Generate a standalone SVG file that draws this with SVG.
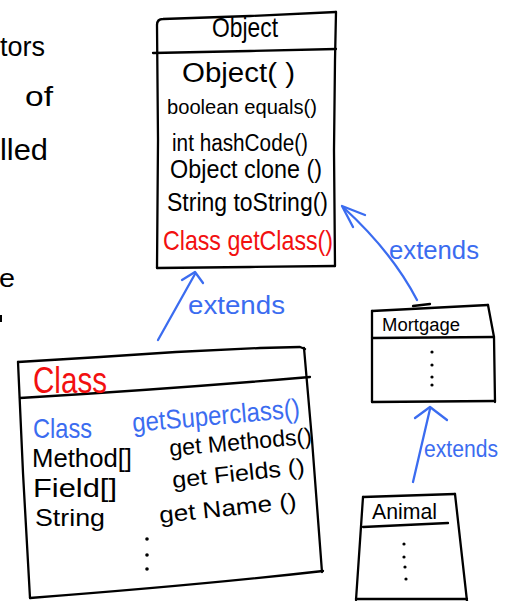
<svg xmlns="http://www.w3.org/2000/svg" width="506" height="601" viewBox="0 0 506 601">
  <style>
    .box { fill: none; stroke: #000; stroke-width: 2.3; stroke-linecap: round; stroke-linejoin: round; }
    .link { fill: none; stroke: #3b6cf0; stroke-width: 2.3; stroke-linecap: round; stroke-linejoin: round; }
    text { font-family: "Liberation Sans", Arial, sans-serif; }
    .ink { fill: #000; }
    .red { fill: #f21010; }
    .blue { fill: #3b6cf0; }
    .dot { fill: #000; }
  </style>
  <rect width="506" height="601" fill="#fff"/>

  <!-- fragments of handwritten notes cut off at the left margin -->
  <g id="margin-notes" class="ink">
    <text x="0" y="56" font-size="27" textLength="45" lengthAdjust="spacingAndGlyphs">tors</text>
    <text x="25" y="106" font-size="28" textLength="28" lengthAdjust="spacingAndGlyphs">of</text>
    <text x="0" y="160" font-size="30" textLength="48" lengthAdjust="spacingAndGlyphs">lled</text>
    <text x="-1" y="287" font-size="25" textLength="16" lengthAdjust="spacingAndGlyphs">e</text>
    <path d="M1,315 L1,322" stroke="#000" stroke-width="2" fill="none"/>
  </g>

  <!-- java.lang.Object -->
  <g id="node-object">
    <path class="box" d="M157,25 C157,21 159,19 163,19 L250,16 L336,12"/>
    <path class="box" d="M157,25 L158,140 L157,268"/>
    <path class="box" d="M336,12 L335,60 L334,150 L335,266"/>
    <path class="box" d="M153,53 L250,51 L336,49"/>
    <path class="box" d="M157,268 L250,267 L335,266"/>
    <text class="ink" x="212" y="37" font-size="28" textLength="66" lengthAdjust="spacingAndGlyphs">Object</text>
    <text class="ink" x="182" y="82" font-size="27" textLength="113" lengthAdjust="spacingAndGlyphs">Object( )</text>
    <text class="ink" x="167" y="114" font-size="21" textLength="150" lengthAdjust="spacingAndGlyphs">boolean equals()</text>
    <text class="ink" x="172" y="151" font-size="23" textLength="136" lengthAdjust="spacingAndGlyphs">int hashCode()</text>
    <text class="ink" x="170" y="178" font-size="25" textLength="152" lengthAdjust="spacingAndGlyphs">Object clone ()</text>
    <text class="ink" x="167" y="211" font-size="25" textLength="161" lengthAdjust="spacingAndGlyphs">String toString()</text>
    <text class="red" x="163" y="250" font-size="28" textLength="170" lengthAdjust="spacingAndGlyphs">Class getClass()</text>
  </g>

  <!-- java.lang.Class -->
  <g id="node-class">
    <path class="box" d="M18,362 L100,357 L176,352 L260,348 L300,347 L305,349"/>
    <path class="box" d="M18,362 L23,473 L30,598"/>
    <path class="box" d="M304,348 L312,440 L322,572"/>
    <path class="box" d="M20,398 Q170,389 310,377"/>
    <path class="box" d="M30,598 Q200,585 323,571"/>
    <text class="red" x="33" y="393" font-size="37" textLength="74" lengthAdjust="spacingAndGlyphs">Class</text>
    <text class="blue" x="33" y="438" font-size="28" textLength="59" lengthAdjust="spacingAndGlyphs">Class</text>
    <text class="blue" x="133" y="432" font-size="27" textLength="168" lengthAdjust="spacingAndGlyphs" transform="rotate(-5 133 432)">getSuperclass()</text>
    <text class="ink" x="32" y="467" font-size="25" textLength="100" lengthAdjust="spacingAndGlyphs">Method[]</text>
    <text class="ink" x="170" y="456" font-size="23" textLength="143" lengthAdjust="spacingAndGlyphs" transform="rotate(-5 170 456)">get Methods()</text>
    <text class="ink" x="33" y="497" font-size="25" textLength="84" lengthAdjust="spacingAndGlyphs">Field[]</text>
    <text class="ink" x="173" y="488" font-size="23" textLength="133" lengthAdjust="spacingAndGlyphs" transform="rotate(-6 173 488)">get Fields ()</text>
    <text class="ink" x="35" y="526" font-size="24" textLength="70" lengthAdjust="spacingAndGlyphs">String</text>
    <text class="ink" x="160" y="523" font-size="23" textLength="138" lengthAdjust="spacingAndGlyphs" transform="rotate(-6 160 523)">get Name ()</text>
    <circle class="dot" cx="147" cy="539" r="1.8"/>
    <circle class="dot" cx="147" cy="555" r="1.8"/>
    <circle class="dot" cx="147" cy="569" r="1.8"/>
  </g>

  <!-- Mortgage -->
  <g id="node-mortgage">
    <path class="box" d="M372,311 L430,308 L488,305"/>
    <path class="box" d="M413,306 L430,304"/>
    <path class="box" d="M372,311 L372,402"/>
    <path class="box" d="M488,305 L494,337 L495,402"/>
    <path class="box" d="M372,338 L494,337"/>
    <path class="box" d="M372,402 L495,401"/>
    <text class="ink" x="382" y="331" font-size="18" textLength="78" lengthAdjust="spacingAndGlyphs">Mortgage</text>
    <circle class="dot" cx="432" cy="352" r="1.6"/>
    <circle class="dot" cx="432" cy="365" r="1.6"/>
    <circle class="dot" cx="432" cy="377" r="1.6"/>
    <circle class="dot" cx="432" cy="385" r="1.6"/>
  </g>

  <!-- Animal -->
  <g id="node-animal">
    <path class="box" d="M363,497 L455,494"/>
    <path class="box" d="M363,497 L356,600"/>
    <path class="box" d="M455,494 L467,601"/>
    <path class="box" d="M363,527 L448,523"/>
    <path class="box" d="M356,599 L467,599"/>
    <text class="ink" x="372" y="519" font-size="22" textLength="65" lengthAdjust="spacingAndGlyphs">Animal</text>
    <circle class="dot" cx="404" cy="544" r="1.6"/>
    <circle class="dot" cx="404" cy="557" r="1.6"/>
    <circle class="dot" cx="405" cy="567" r="1.6"/>
    <circle class="dot" cx="406" cy="579" r="1.6"/>
  </g>

  <!-- inheritance links -->
  <g id="connectors">
    <!-- Class extends Object -->
    <path class="link" d="M158,340 L195,274"/>
    <path class="link" d="M182,280 L195,272 L203,283"/>
    <text class="blue" x="188" y="314" font-size="25" textLength="97" lengthAdjust="spacingAndGlyphs">extends</text>

    <!-- Mortgage extends Object -->
    <path class="link" d="M417,300 Q392,252 344,208"/>
    <path class="link" d="M365,215 L342,206 L353,227"/>
    <text class="blue" x="389" y="259" font-size="25" textLength="90" lengthAdjust="spacingAndGlyphs">extends</text>

    <!-- Animal extends Mortgage -->
    <path class="link" d="M413,482 L430,409"/>
    <path class="link" d="M415,418 L430,407 L447,420"/>
    <text class="blue" x="424" y="457" font-size="23" textLength="74" lengthAdjust="spacingAndGlyphs">extends</text>
  </g>
</svg>
